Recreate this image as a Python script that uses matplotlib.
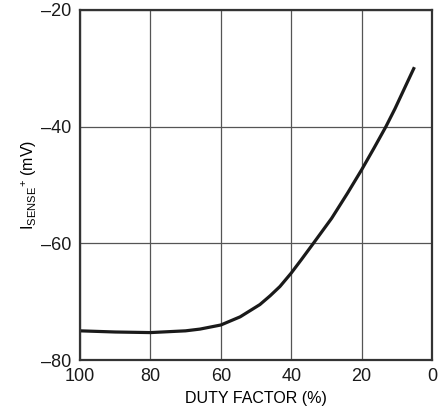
import matplotlib
matplotlib.use('Agg')
import matplotlib.pyplot as plt

# curve
duty = [100, 90, 80, 70, 65.9, 60, 54.5, 48.9, 46, 43.2, 40, 37, 33.7,
        28.5, 24, 20, 16.5, 13.1, 10.5, 8.8, 6.4, 5]
isense = [-75.0, -75.2, -75.3, -75.0, -74.7, -74.0, -72.6, -70.5, -69.0, -67.4,
          -65.1, -62.7, -60.0, -55.7, -51.4, -47.4, -43.7, -40.0, -36.9,
          -34.7, -31.6, -29.8]

xticks = [100, 80, 60, 40, 20, 0]
yticks = [-80, -60, -40, -20]

plt.rcParams['font.family'] = ['Liberation Sans Narrow', 'Liberation Sans', 'DejaVu Sans']
plt.rcParams['mathtext.fontset'] = 'custom'
plt.rcParams['mathtext.rm'] = 'Liberation Sans'
plt.rcParams['mathtext.it'] = 'Liberation Sans'
plt.rcParams['axes.unicode_minus'] = False

fig = plt.figure(figsize=(4.46, 4.19), dpi=100)
ax = fig.add_axes([80 / 446, 1 - 360 / 419, 352 / 446, 350 / 419])

ax.plot(duty, isense, color='#1a1a1a', linewidth=2.3,
        solid_joinstyle='round', solid_capstyle='butt')

ax.set_xlim(100, 0)
ax.set_ylim(-80, -20)
ax.set_xticks(xticks)
ax.set_yticks(yticks)
ax.set_xticklabels([str(v) for v in xticks])
ax.set_yticklabels(['\u2013' + str(-v) for v in yticks])
ax.tick_params(length=0, labelsize=13, colors='#1a1a1a', pad=6)
ax.grid(True, color='#555555', linewidth=0.9)
for s in ax.spines.values():
    s.set_linewidth(1.6)
    s.set_color('#333333')

ax.set_xlabel('DUTY FACTOR (%)', fontsize=11.5, labelpad=4)
ax.set_ylabel(r'I$_{\mathrm{SENSE}}$$^{+}$ (mV)', fontsize=11.5, labelpad=2)

fig.savefig('out.png', dpi=100)
